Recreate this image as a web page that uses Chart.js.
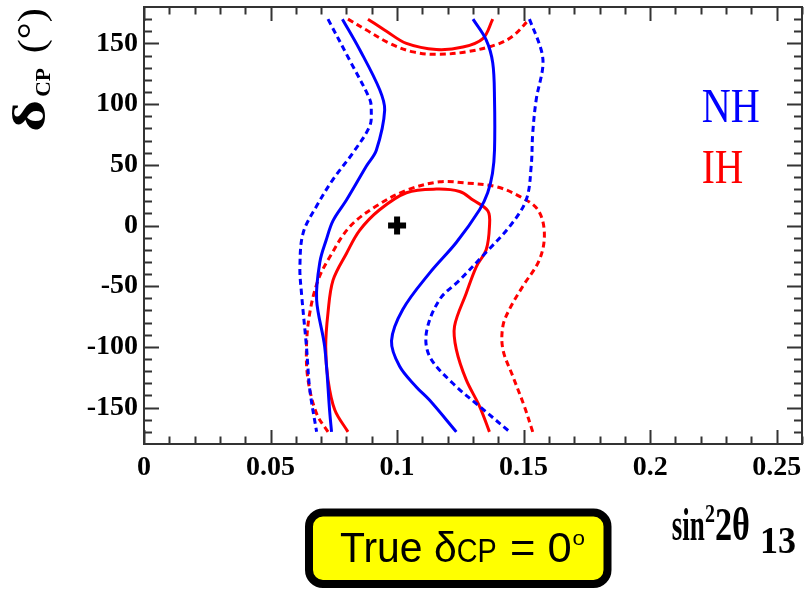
<!DOCTYPE html>
<html>
<head>
<meta charset="utf-8">
<script src="https://cdn.jsdelivr.net/npm/chart.js@4.4.1/dist/chart.umd.min.js"></script>
<style>
  html, body { margin: 0; padding: 0; background: #fff; }
  #wrap { width: 804px; height: 589px; }
</style>
</head>
<body>
<div id="wrap"><canvas id="contourChart" width="804" height="589"></canvas></div>
<script>
// axis ticks
var xTicks = [0, 0.05, 0.1, 0.15, 0.2, 0.25];
var xTickLabels = ['0', '0.05', '0.1', '0.15', '0.2', '0.25'];
var yTicks = [-150, -100, -50, 0, 50, 100, 150];
var yTickLabels = ['-150', '-100', '-50', '0', '50', '100', '150'];
var xMinorStep = 0.01;
var yMinorStep = 10;

// contours [sin^2 2theta13, deltaCP], normal hierarchy
var nhSolidLeft = [[0.0784, 170], [0.0852, 145], [0.0931, 112], [0.0951, 95], [0.0918, 62], [0.0879, 49],
    [0.0800, 21], [0.0747, 4], [0.0720, -12], [0.0695, -30], [0.0682, -61], [0.0714, -100], [0.0734, -154], [0.0741, -170]];
var nhSolidRight = [[0.1300, 170], [0.1352, 153], [0.1378, 134], [0.1385, 104], [0.1385, 62], [0.1377, 43],
    [0.1358, 27], [0.1326, 13], [0.1234, -14], [0.1129, -39], [0.1023, -69], [0.0978, -95], [0.1010, -116],
    [0.1076, -133], [0.1129, -144], [0.1234, -170]];
var nhDashLeft = [[0.0727, 170], [0.0813, 136], [0.0892, 104], [0.0898, 95], [0.0892, 82], [0.0826, 60],
    [0.0747, 38], [0.0682, 16], [0.0629, -6], [0.0616, -34], [0.0622, -55], [0.0642, -100], [0.0655, -135], [0.0682, -170]];
var nhDashRight = [[0.1523, 170], [0.1569, 145], [0.1576, 131], [0.1550, 104], [0.1536, 76], [0.1530, 49],
    [0.1510, 21], [0.1444, -1], [0.1352, -22], [0.1247, -45], [0.1168, -61], [0.1116, -88], [0.1129, -108],
    [0.1220, -130], [0.1326, -149], [0.1451, -171]];

// inverted hierarchy
var ihSolidTop = [[0.0885, 170], [0.0958, 160], [0.1037, 150], [0.1155, 145], [0.1260, 147], [0.1339, 154], [0.1378, 170]];
var ihDashTop = [[0.0806, 170], [0.0879, 161], [0.0971, 150], [0.1063, 143], [0.1155, 141], [0.1273, 143],
    [0.1392, 149], [0.1457, 156], [0.1523, 170]];
var ihSolidBottom = [[0.0806, -170], [0.0754, -152], [0.0727, -127], [0.0718, -100], [0.0727, -72], [0.0747, -45],
    [0.0800, -23], [0.0852, -4], [0.0931, 13], [0.1037, 27], [0.1155, 30], [0.1247, 28], [0.1300, 21], [0.1359, 12],
    [0.1365, -1], [0.1352, -20], [0.1313, -34], [0.1273, -56], [0.1227, -83], [0.1234, -102], [0.1273, -127],
    [0.1326, -149], [0.1365, -170]];
var ihDashBottom = [[0.0727, -170], [0.0682, -155], [0.0648, -127], [0.0642, -100], [0.0655, -72], [0.0688, -45],
    [0.0734, -26], [0.0813, -1], [0.0918, 16], [0.1037, 29], [0.1168, 36], [0.1273, 35], [0.1392, 32], [0.1484, 24],
    [0.1556, 13], [0.1582, -6], [0.1563, -28], [0.1497, -50], [0.1444, -69], [0.1418, -83], [0.1418, -102],
    [0.1457, -124], [0.1503, -149], [0.1536, -170]];

var bestFit = [[0.1, 0]];

var BLUE = '#0000ff';
var RED = '#ff0000';
var FRAME = '#333333';
var SERIF = '"Liberation Serif", "Times New Roman", serif';
var SANS = '"Liberation Sans", Arial, sans-serif';

function pts(list) {
    return list.map(function (p) { return { x: p[0], y: p[1] }; });
}

function contour(list, color, dashed) {
    return {
        data: pts(list),
        showLine: true,
        borderColor: color,
        borderWidth: 3,
        borderDash: dashed ? [6, 4] : [],
        pointRadius: 0,
        tension: 0.35,
        fill: false
    };
}

// squeeze text into a given width
function fitText(ctx, text, font, x, y, width) {
    ctx.font = font;
    var w = ctx.measureText(text).width;
    ctx.save();
    ctx.translate(x, y);
    ctx.scale(width / w, 1);
    ctx.fillText(text, 0, 0);
    ctx.restore();
}

// fixed axis sizes, no extra label padding around the plot
function fixAxis(size) {
    return function (s) {
        if (s.isHorizontal()) { s.height = size; } else { s.width = size; }
        s.paddingTop = s.paddingBottom = s.paddingLeft = s.paddingRight = 0;
    };
}

var decorations = {
    id: 'decorations',
    afterDraw: function (chart) {
        var ctx = chart.ctx;
        var a = chart.chartArea;
        var xs = chart.scales.x, ys = chart.scales.y;
        var i, v, p;

        ctx.save();
        ctx.strokeStyle = FRAME;
        ctx.lineWidth = 2;
        ctx.beginPath();
        // minor + major ticks, pointing inwards on all four sides
        for (i = 0; i * xMinorStep <= xs.max + 1e-9; i++) {
            v = i * xMinorStep;
            p = Math.round(xs.getPixelForValue(v)) + 0.5;
            var lx = (i % 5 === 0) ? 14 : 7.5;
            ctx.moveTo(p, a.bottom); ctx.lineTo(p, a.bottom - lx);
            ctx.moveTo(p, a.top); ctx.lineTo(p, a.top + lx);
        }
        for (v = -170; v <= 170; v += yMinorStep) {
            p = Math.round(ys.getPixelForValue(v)) + 0.5;
            var ly = (v % 50 === 0) ? 15 : 8;
            ctx.moveTo(a.left, p); ctx.lineTo(a.left + ly, p);
            ctx.moveTo(a.right, p); ctx.lineTo(a.right - ly, p);
        }
        ctx.stroke();
        ctx.strokeRect(a.left, a.top, a.right - a.left, a.bottom - a.top);

        // hierarchy labels
        ctx.textBaseline = 'alphabetic';
        ctx.textAlign = 'left';
        ctx.fillStyle = BLUE;
        fitText(ctx, 'NH', '48px ' + SERIF, 701.7, 121.7, 58);
        ctx.fillStyle = RED;
        fitText(ctx, 'IH', '48px ' + SERIF, 701.7, 183.3, 41.6);

        // x title: sin^2 2theta_13
        ctx.fillStyle = '#000';
        fitText(ctx, 'sin', 'bold 46px ' + SERIF, 671.7, 540, 33);
        fitText(ctx, '2', 'bold 26px ' + SERIF, 705, 521.7, 10);
        fitText(ctx, '2\u03b8', 'bold 46px ' + SERIF, 715, 540, 35);
        fitText(ctx, '13', 'bold 38px ' + SERIF, 760, 553.3, 36);

        // y title: delta_CP (deg)
        ctx.save();
        ctx.translate(45, 131.7);
        ctx.rotate(-Math.PI / 2);
        fitText(ctx, '\u03b4', 'bold 46px ' + SERIF, 0, 0, 31.7);
        fitText(ctx, 'CP', 'bold 20px ' + SERIF, 35, 5, 28.7);
        fitText(ctx, '(\u00b0)', '38px ' + SERIF, 78.4, -1, 45);
        ctx.restore();

        // true value box
        ctx.beginPath();
        ctx.roundRect(309, 512.5, 298.5, 71.5, 14);
        ctx.fillStyle = '#ffff00';
        ctx.fill();
        ctx.lineWidth = 8;
        ctx.strokeStyle = '#000';
        ctx.stroke();
        ctx.fillStyle = '#000';
        fitText(ctx, 'True \u03b4', '42px ' + SANS, 340, 561.7, 116.7);
        fitText(ctx, 'CP', '33px ' + SANS, 456.7, 561.7, 40);
        fitText(ctx, '= 0', '42px ' + SANS, 510, 561.7, 61.7);
        fitText(ctx, 'o', '20px ' + SANS, 572.5, 545, 12.5);
        ctx.restore();
    }
};

var tickFont = { family: SERIF, size: 28, weight: 'bold' };

new Chart(document.getElementById('contourChart'), {
    type: 'scatter',
    data: {
        datasets: [
            contour(nhSolidLeft, BLUE, false),
            contour(nhSolidRight, BLUE, false),
            contour(nhDashLeft, BLUE, true),
            contour(nhDashRight, BLUE, true),
            contour(ihSolidTop, RED, false),
            contour(ihDashTop, RED, true),
            contour(ihSolidBottom, RED, false),
            contour(ihDashBottom, RED, true),
            {
                data: pts(bestFit),
                pointStyle: 'cross',
                pointRadius: 9,
                borderWidth: 6,
                borderColor: '#000',
                backgroundColor: '#000'
            }
        ]
    },
    options: {
        responsive: false,
        animation: false,
        layout: { autoPadding: false, padding: { top: 7, right: 2, left: 0, bottom: 0 } },
        plugins: { legend: { display: false }, tooltip: { enabled: false } },
        scales: {
            x: {
                type: 'linear',
                min: 0,
                max: 0.26,
                afterBuildTicks: function (s) { s.ticks = xTicks.map(function (v) { return { value: v }; }); },
                afterFit: fixAxis(145),
                grid: { display: false, drawTicks: false },
                border: { display: false },
                ticks: {
                    callback: function (v, i) { return xTickLabels[i]; },
                    font: tickFont,
                    color: '#000',
                    padding: 7,
                    maxRotation: 0,
                    autoSkip: false
                }
            },
            y: {
                type: 'linear',
                min: -180,
                max: 180,
                afterBuildTicks: function (s) { s.ticks = yTicks.map(function (v) { return { value: v }; }); },
                afterFit: fixAxis(144),
                grid: { display: false, drawTicks: false },
                border: { display: false },
                ticks: {
                    callback: function (v, i) { return yTickLabels[i]; },
                    font: tickFont,
                    color: '#000',
                    padding: 6,
                    autoSkip: false
                }
            }
        }
    },
    plugins: [decorations]
});
</script>
</body>
</html>
